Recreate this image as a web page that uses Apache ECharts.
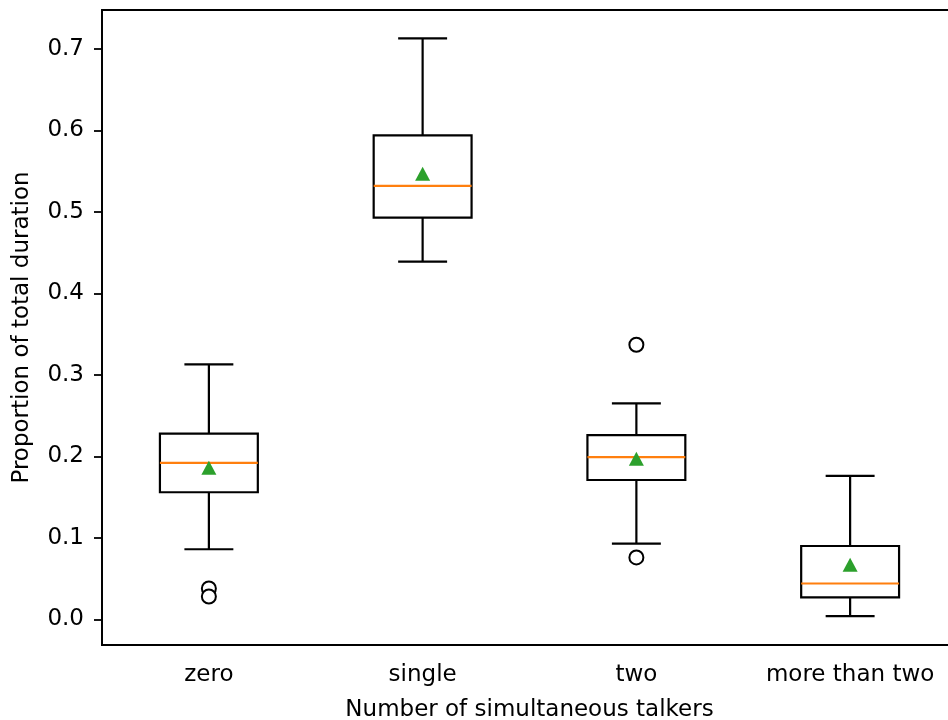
<!DOCTYPE html>
<html>
<head>
<meta charset="utf-8">
<script src="https://cdn.jsdelivr.net/npm/echarts@6/dist/echarts.min.js"></script>
<style>
  html, body { margin: 0; padding: 0; background: #fff; overflow: hidden; }
  /* the plot frame runs past the right edge of the picture, so the canvas is a bit wider than the window */
  #chart { width: 958px; height: 720px; }
</style>
</head>
<body>
<div id="chart"></div>
<script>
// categories on the x axis
const categories = ['zero', 'single', 'two', 'more than two'];
// [whisker low, Q1, median, Q3, whisker high] per category
const boxStats = [
  [0.086, 0.156, 0.192, 0.228, 0.313],
  [0.439, 0.493, 0.532, 0.594, 0.713],
  [0.093, 0.171, 0.199, 0.226, 0.265],
  [0.004, 0.027, 0.044, 0.090, 0.176]
];
// means (green triangles)
const means = [0.186, 0.547, 0.197, 0.067];
// outliers: [category index, value]
const outliers = [
  [0, 0.038], [0, 0.028],
  [2, 0.337], [2, 0.076]
];
const yTicks = [0.0, 0.1, 0.2, 0.3, 0.4, 0.5, 0.6, 0.7];

const FONT = 'DejaVu Sans';
const FS = 23;

const boxData = boxStats.map((s, i) => [i].concat(s));

function renderBox(params, api) {
  const idx = api.value(0);
  const band = api.size([1, 0])[0];
  const half = band * 0.229;
  const capHalf = band * 0.1145;
  const pLow = api.coord([idx, api.value(1)]);
  const pQ1 = api.coord([idx, api.value(2)]);
  const pMed = api.coord([idx, api.value(3)]);
  const pQ3 = api.coord([idx, api.value(4)]);
  const pHigh = api.coord([idx, api.value(5)]);
  const x = pQ1[0];
  const black = { stroke: '#000', lineWidth: 2.2, fill: null };
  return {
    type: 'group',
    children: [
      { type: 'rect', shape: { x: x - half, y: pQ3[1], width: half * 2, height: pQ1[1] - pQ3[1] }, style: black },
      { type: 'line', shape: { x1: x, y1: pQ1[1], x2: x, y2: pLow[1] }, style: black },
      { type: 'line', shape: { x1: x, y1: pQ3[1], x2: x, y2: pHigh[1] }, style: black },
      { type: 'line', shape: { x1: x - capHalf, y1: pLow[1], x2: x + capHalf, y2: pLow[1] }, style: black },
      { type: 'line', shape: { x1: x - capHalf, y1: pHigh[1], x2: x + capHalf, y2: pHigh[1] }, style: black },
      { type: 'line', shape: { x1: x - half, y1: pMed[1], x2: x + half, y2: pMed[1] },
        style: { stroke: '#ff7f0e', lineWidth: 2.2, fill: null } }
    ]
  };
}

const chart = echarts.init(document.getElementById('chart'), null, { renderer: 'canvas' });
chart.setOption({
  animation: false,
  backgroundColor: '#fff',
  textStyle: { fontFamily: FONT },
  grid: {
    left: 102, top: 10, right: 1, bottom: 75,
    outerBoundsMode: 'none',
    containLabel: false,
    show: true, borderColor: '#000', borderWidth: 1.8, backgroundColor: 'transparent'
  },
  xAxis: {
    type: 'category',
    data: categories,
    boundaryGap: true,
    name: 'Number of simultaneous talkers',
    nameLocation: 'middle',
    nameGap: 54,
    nameTextStyle: { fontFamily: FONT, fontSize: FS, color: '#000' },
    axisLine: { onZero: false, lineStyle: { color: '#000', width: 1.8 } },
    axisTick: { alignWithLabel: true, interval: 0, length: 8, lineStyle: { color: '#000', width: 1.8 } },
    axisLabel: { fontFamily: FONT, fontSize: FS, color: '#000', margin: 19, interval: 0, hideOverlap: false },
    splitLine: { show: false }
  },
  yAxis: {
    type: 'value',
    min: -0.0315,
    max: 0.7479,
    name: 'Proportion of total duration',
    nameLocation: 'middle',
    nameGap: 68,
    nameTextStyle: { fontFamily: FONT, fontSize: FS, color: '#000' },
    axisLine: { show: true, lineStyle: { color: '#000', width: 1.8 } },
    axisTick: { show: true, length: 8, customValues: yTicks, lineStyle: { color: '#000', width: 1.8 } },
    axisLabel: {
      fontFamily: FONT, fontSize: FS, color: '#000', margin: 18,
      customValues: yTicks,
      formatter: v => v.toFixed(1)
    },
    splitLine: { show: false }
  },
  series: [
    {
      type: 'custom',
      renderItem: renderBox,
      data: boxData,
      encode: { x: 0, y: [1, 2, 3, 4, 5] },
      z: 2
    },
    {
      type: 'scatter',
      data: outliers,
      symbol: 'circle',
      symbolSize: 14,
      itemStyle: { color: '#fff', borderColor: '#000', borderWidth: 2, opacity: 1 },
      z: 3
    },
    {
      type: 'scatter',
      data: means.map((m, i) => [i, m]),
      symbol: 'triangle',
      symbolSize: [15, 14],
      itemStyle: { color: '#2ca02c', opacity: 1 },
      z: 4
    }
  ]
});
</script>
</body>
</html>
